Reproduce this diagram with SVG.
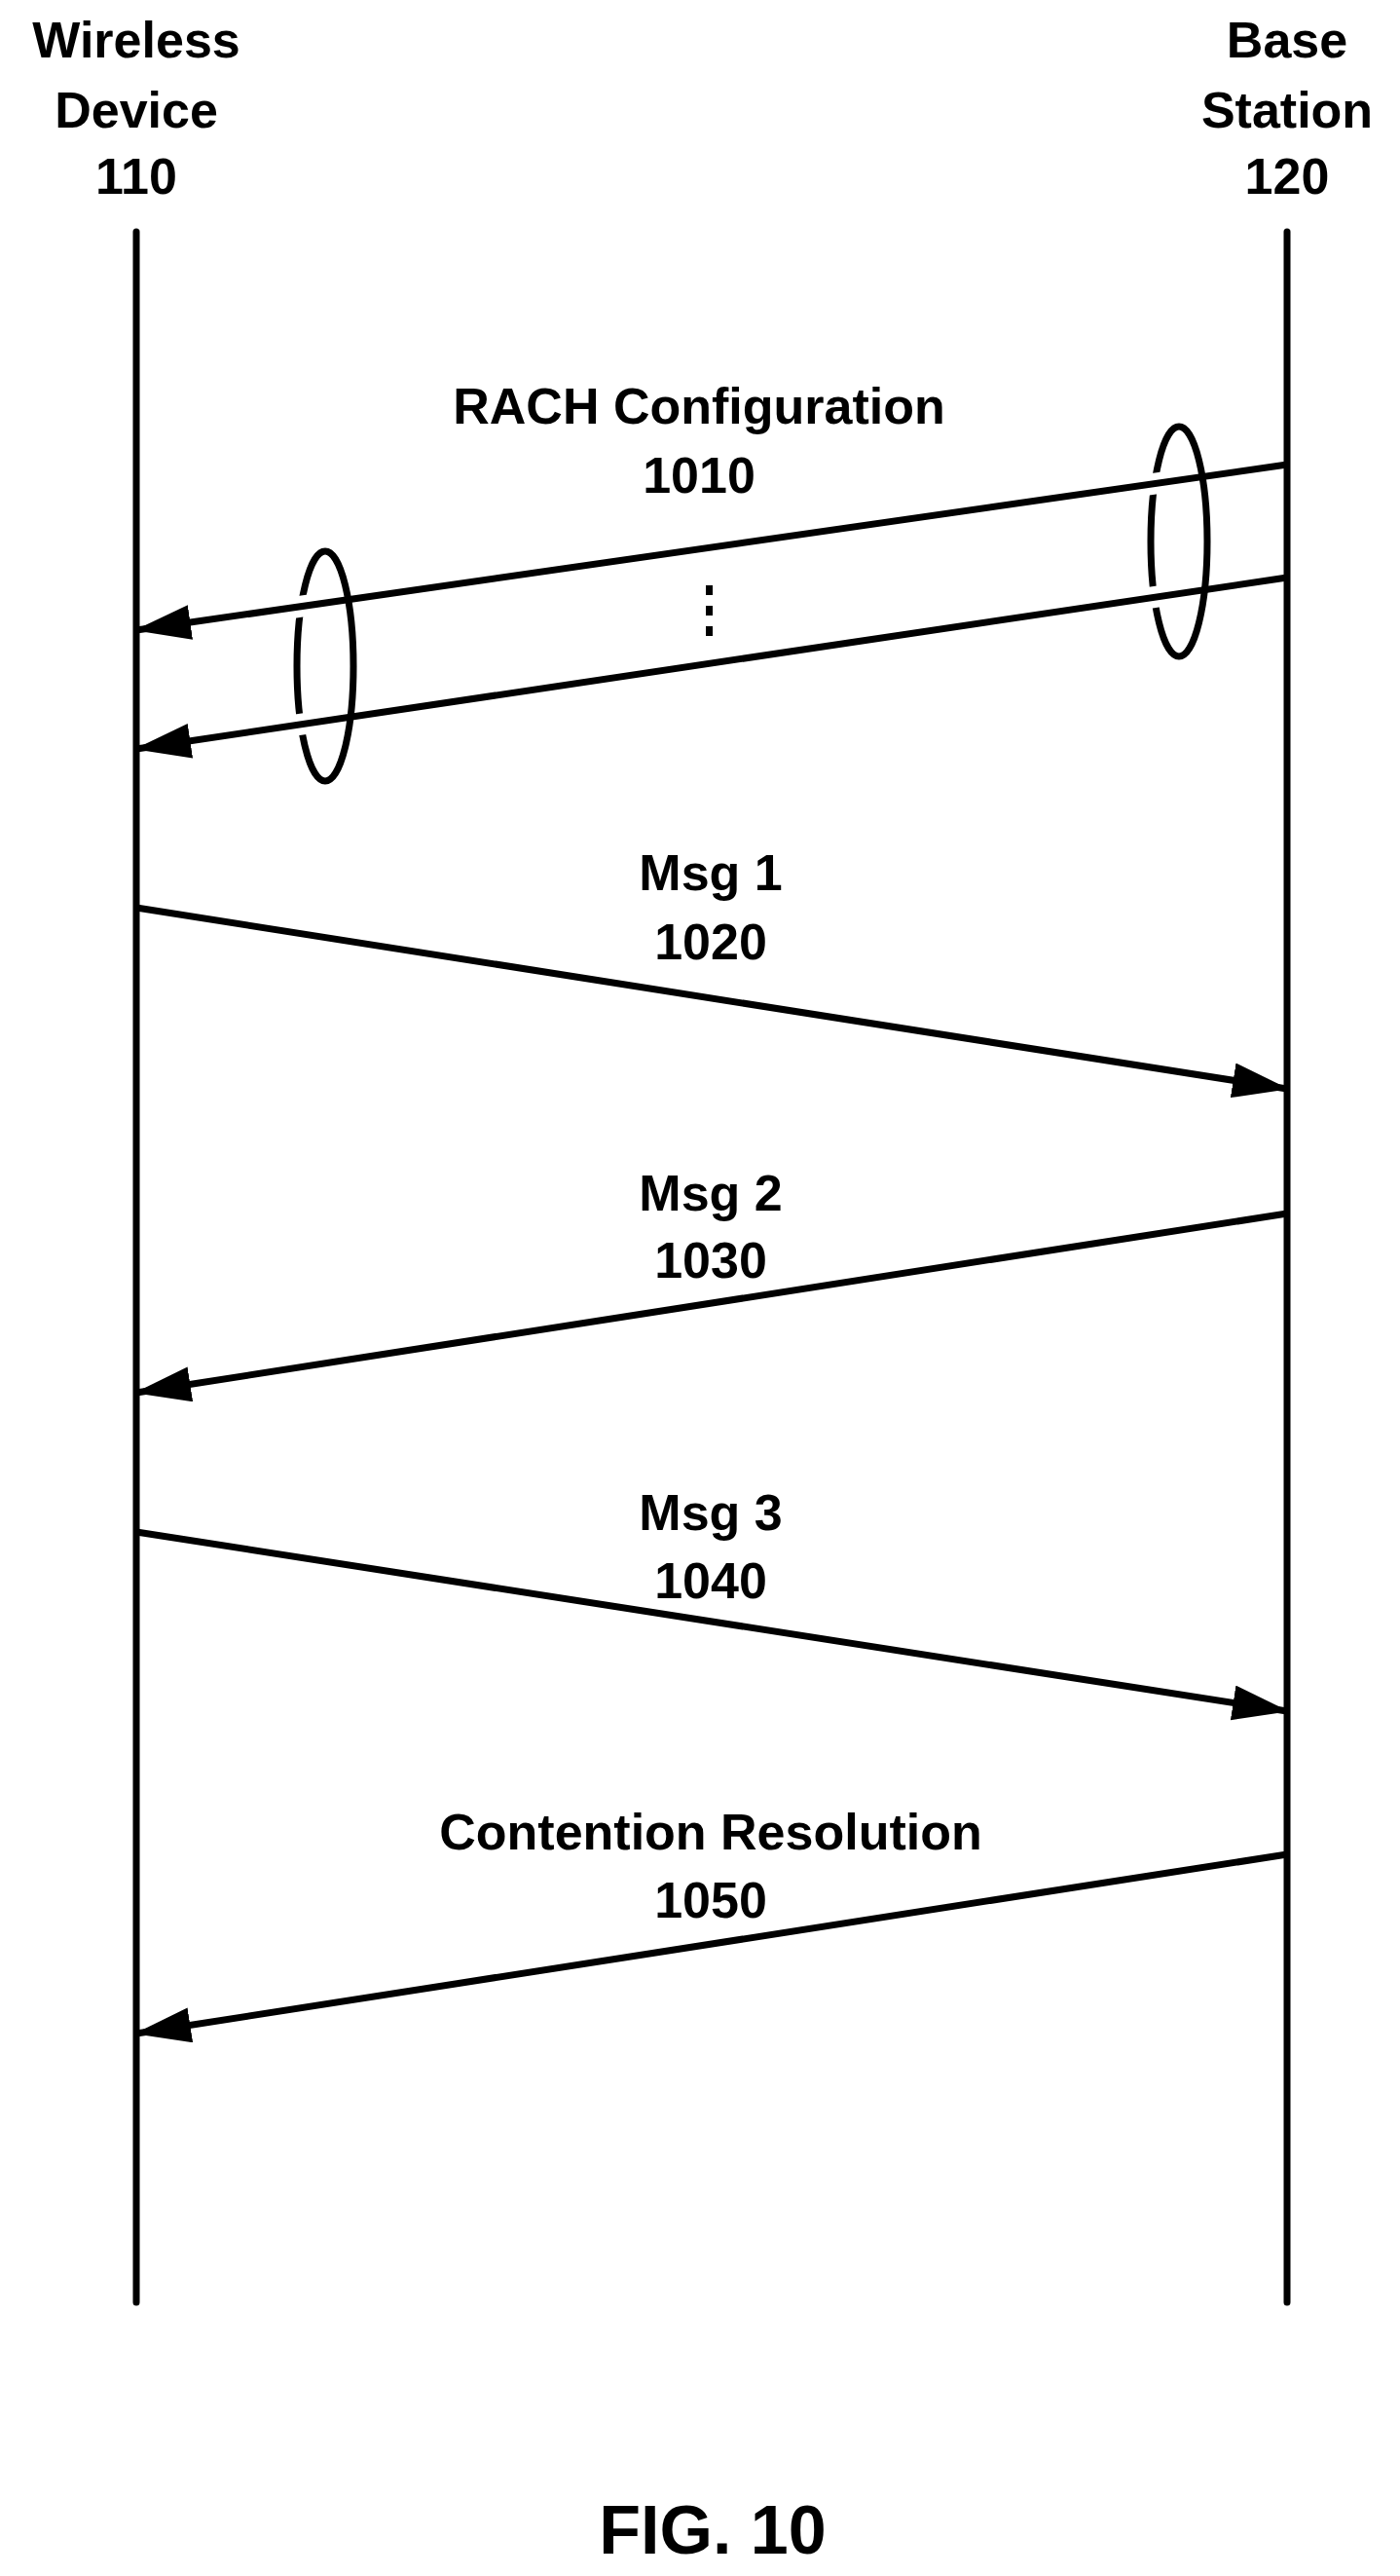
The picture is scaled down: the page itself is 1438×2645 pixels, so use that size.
<svg xmlns="http://www.w3.org/2000/svg" width="1438" height="2645" viewBox="0 0 1438 2645">
<style>
text{font-family:"Liberation Sans",Arial,sans-serif;font-weight:bold;font-size:52px;fill:#000;text-anchor:middle}
.ll{stroke:#000;stroke-width:7;stroke-linecap:round;fill:none}
.msg{stroke:#000;stroke-width:7;fill:none;marker-end:url(#ah)}
.halo{stroke:#fff;stroke-width:22;fill:none}
.ell{stroke:#000;stroke-width:7;fill:none}
</style>
<defs>
<marker id="ah" markerUnits="userSpaceOnUse" markerWidth="60" markerHeight="40" refX="56" refY="18" orient="auto">
<path d="M0,0 L58,18 L0,36 Z" fill="#000"/>
</marker>
</defs>
<rect width="1438" height="2645" fill="#fff"/>
<g id="wireless-device">
<text x="140" y="59">Wireless</text>
<text x="140" y="131">Device</text>
<text x="140" y="199">110</text>
<line class="ll" x1="140" y1="238" x2="140" y2="2364"/>
</g>
<g id="base-station">
<text x="1322" y="59">Base</text>
<text x="1322" y="131">Station</text>
<text x="1322" y="199">120</text>
<line class="ll" x1="1322" y1="238" x2="1322" y2="2364"/>
</g>
<g id="labels">
<text x="718" y="435">RACH Configuration</text>
<text x="718" y="506">1010</text>
<text x="730" y="914">Msg 1</text>
<text x="730" y="985">1020</text>
<text x="730" y="1243">Msg 2</text>
<text x="730" y="1312">1030</text>
<text x="730" y="1571">Msg 3</text>
<text x="730" y="1641">1040</text>
<text x="730" y="1899">Contention Resolution</text>
<text x="730" y="1969">1050</text>
<text x="732" y="2622" style="font-size:70px">FIG. 10</text>
</g>
<g id="bundles">
<ellipse class="ell" cx="1211" cy="556" rx="29" ry="118"/>
<ellipse class="ell" cx="334" cy="684" rx="29" ry="118"/>
<g fill="#000">
<rect x="725" y="601" width="7" height="10"/>
<rect x="725" y="622" width="7" height="10"/>
<rect x="725" y="643" width="7" height="10"/>
</g>
</g>
<g id="connectors">
<line class="halo" x1="1195" y1="495.3" x2="1170" y2="498.9"/>
<line class="halo" x1="1195" y1="611.7" x2="1170" y2="615.5"/>
<line class="halo" x1="318" y1="621.4" x2="293" y2="625"/>
<line class="halo" x1="318" y1="742.4" x2="293" y2="746.2"/>
<line class="msg" x1="1322" y1="477" x2="140" y2="647"/>
<line class="msg" x1="1322" y1="593" x2="140" y2="769"/>
<line class="msg" x1="140" y1="932" x2="1322" y2="1118"/>
<line class="msg" x1="1322" y1="1246" x2="140" y2="1430"/>
<line class="msg" x1="140" y1="1573" x2="1322" y2="1757"/>
<line class="msg" x1="1322" y1="1904" x2="140" y2="2088"/>
</g>
</svg>
